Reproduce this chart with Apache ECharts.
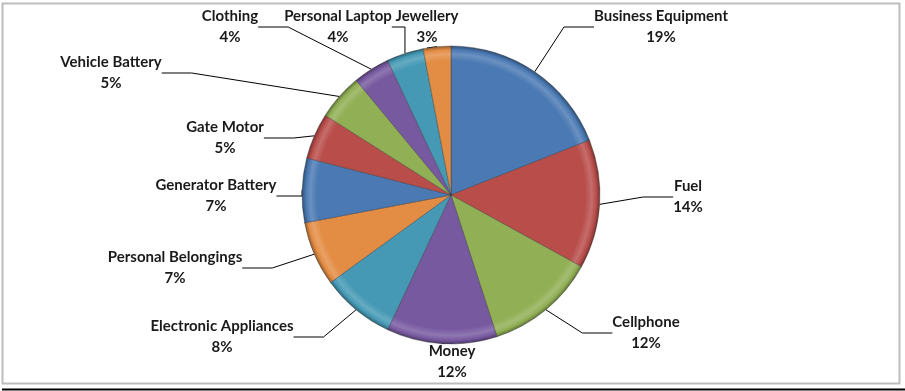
<!DOCTYPE html>
<html>
<head>
<meta charset="utf-8">
<script src="https://cdn.jsdelivr.net/npm/echarts@6/dist/echarts.min.js"></script>
<style>
  html, body { margin: 0; padding: 0; background: #fff; }
  #main { width: 905px; height: 391px; }
</style>
</head>
<body>
<div id="main"></div>
<script>
// categories, clockwise from 12 o'clock
const categories = ['Business Equipment', 'Fuel', 'Cellphone', 'Money', 'Electronic Appliances',
    'Personal Belongings', 'Generator Battery', 'Gate Motor', 'Vehicle Battery', 'Clothing',
    'Personal Laptop', 'Jewellery'];
// share in percent
const shares = [19, 14, 12, 12, 8, 7, 7, 5, 5, 4, 4, 3];
// office 2007 palette (a bit darker, the bevel dims it), repeats after six
const palette = ['#4A79B3', '#B84D4A', '#91AF54', '#7759A0', '#4599B4', '#E38C44'];
// where excel put each label (centre of the two line block)
const labelSpots = [[661, 27], [688, 197], [646, 333], [452, 362], [222, 337], [175, 268],
    [216, 196], [225, 138], [111, 73], [230, 27], [338, 27], [427, 27]];

const cx = 451, cy = 195, R = 149;

function shade(hex, f) {
    // f > 0 lighter, f < 0 darker
    let n = parseInt(hex.slice(1), 16);
    let rgb = [n >> 16, (n >> 8) & 255, n & 255].map(v =>
        Math.round(f > 0 ? v + (255 - v) * f : v * (1 + f)));
    return 'rgb(' + rgb.join(',') + ')';
}

// fake the excel bevel: light band then dark rim at the edge
function bevel(hex) {
    return {
        type: 'radial', x: cx, y: cy, r: R, global: true,
        colorStops: [
            { offset: 0, color: hex },
            { offset: 0.9, color: hex },
            { offset: 0.945, color: shade(hex, 0.18) },
            { offset: 0.975, color: hex },
            { offset: 1, color: shade(hex, -0.35) }
        ]
    };
}

const chart = echarts.init(document.getElementById('main'));

const option = {
    animation: false,
    graphic: [
        { type: 'rect', shape: { x: 2.5, y: 3.5, width: 897, height: 380 },
          style: { fill: null, stroke: '#bdbdbd', lineWidth: 2 } },
        { type: 'line', shape: { x1: 2, y1: 389.5, x2: 905, y2: 389.5 },
          style: { stroke: '#000', lineWidth: 2 } }
    ],
    series: [{
        type: 'pie',
        center: [cx, cy],
        radius: R,
        startAngle: 90,
        clockwise: true,
        data: categories.map((c, i) => ({
            name: c,
            value: shares[i],
            itemStyle: { color: bevel(palette[i % palette.length]) }
        })),
        itemStyle: { borderColor: 'rgba(40,40,40,0.35)', borderWidth: 1 },
        label: {
            show: true,
            formatter: p => p.name + '\n' + p.value + '%',
            fontFamily: 'Lato',
            fontWeight: 'bold',
            fontSize: 15,
            lineHeight: 21,
            color: '#1a1a1a',
            align: 'center'
        },
        labelLine: { show: true, lineStyle: { color: '#000', width: 1 } },
        labelLayout: p => ({
            x: labelSpots[p.dataIndex][0],
            y: labelSpots[p.dataIndex][1],
            align: 'center',
            verticalAlign: 'middle'
        })
    }]
};
chart.setOption(option);
</script>
</body>
</html>
